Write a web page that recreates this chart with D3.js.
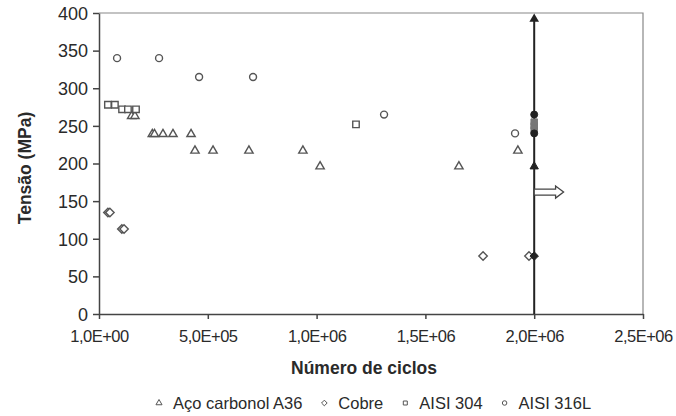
<!DOCTYPE html>
<html>
<head>
<meta charset="utf-8">
<script src="https://cdn.jsdelivr.net/npm/d3@7"></script>
<style>
  body { margin: 0; background: #fff; }
  text { font-family: "Liberation Sans", Arial, sans-serif; fill: #2a2a2a; }
</style>
</head>
<body>
<div id="chart"></div>
<script>
// tick values / labels
var xTicks = [1, 5e5, 1e6, 1.5e6, 2e6, 2.5e6];
var xTickLabels = ["1,0E+00", "5,0E+05", "1,0E+06", "1,5E+06", "2,0E+06", "2,5E+06"];
var yTicks = [0, 50, 100, 150, 200, 250, 300, 350, 400];

// Aço carbonol A36
var a36Cycles = [150000, 165000, 245000, 255000, 294000, 340000, 423000, 441000, 524000, 689000, 937000, 1016000, 1654000, 1925000];
var a36Stress = [263, 263, 239, 239, 239, 239, 239, 217, 217, 217, 217, 196, 196, 217];
// Cobre
var cobreCycles = [41000, 50000, 105000, 115000, 1765000, 1976000];
var cobreStress = [135, 135, 113, 113, 77, 77];
// AISI 304
var a304Cycles = [41000, 73000, 106000, 133000, 170000, 1181000];
var a304Stress = [278, 278, 272, 272, 272, 252];
// AISI 316L
var a316Cycles = [83000, 276000, 460000, 708000, 1310000, 1912000];
var a316Stress = [340, 340, 315, 315, 265, 240];

// run-out specimens (2E+06 cycles)
var runoutCycles = 2e6;
var runA36 = [196];
var runCobre = [77];
var run304 = [245, 250, 255];
var run316 = [265, 240];
var arrowStress = 162;

var width = 676, height = 416;
var margin = {left: 99, right: 33, top: 13, bottom: 102};

var svg = d3.select("#chart").append("svg")
    .attr("width", width)
    .attr("height", height);

var xScale = d3.scaleLinear()
    .domain([1, 2.5e6])
    .range([margin.left, width - margin.right]);
var yScale = d3.scaleLinear()
    .domain([0, 400])
    .range([height - margin.bottom, margin.top]);

var gray = "#555";

// square rotated 45deg, like the Excel diamond marker
var diamond = {
    draw: function (ctx, size) {
        var r = Math.sqrt(size / 2);
        ctx.moveTo(0, -r);
        ctx.lineTo(r, 0);
        ctx.lineTo(0, r);
        ctx.lineTo(-r, 0);
        ctx.closePath();
    }
};

// frame (top and right)
svg.append("path")
    .attr("d", "M" + xScale(1) + "," + yScale(400) + "H" + xScale(2.5e6) + "V" + yScale(0))
    .attr("fill", "none")
    .attr("stroke", "#888")
    .attr("stroke-width", 1.2);

var xAxis = d3.axisBottom(xScale)
    .tickValues(xTicks)
    .tickSize(5)
    .tickSizeOuter(0)
    .tickFormat(function (d, i) { return xTickLabels[i]; });
var yAxis = d3.axisLeft(yScale)
    .tickValues(yTicks)
    .tickSize(6)
    .tickSizeOuter(0);

var gx = svg.append("g")
    .attr("transform", "translate(0," + yScale(0) + ")")
    .call(xAxis);
var gy = svg.append("g")
    .attr("transform", "translate(" + xScale(1) + ",0)")
    .call(yAxis);

[gx, gy].forEach(function (g) {
    g.attr("font-family", null);
    g.selectAll("path, line").attr("stroke", "#444").attr("stroke-width", 1.5);
    g.selectAll("text")
        .attr("fill", "#2a2a2a");
});
gx.selectAll("text")
    .style("font-size", "16.5px")
    .style("letter-spacing", "-0.5px")
    .attr("dy", "1.2em");
gy.selectAll("text")
    .style("font-size", "18px")
    .attr("x", -11)
    .attr("dy", "0.35em");

// axis titles
svg.append("text")
    .attr("x", 364)
    .attr("y", 374)
    .attr("text-anchor", "middle")
    .style("font-size", "17.5px")
    .style("font-weight", "bold")
    .text("Número de ciclos");
svg.append("text")
    .attr("transform", "translate(31," + 168 + ") rotate(-90)")
    .attr("text-anchor", "middle")
    .style("font-size", "17.5px")
    .style("font-weight", "bold")
    .text("Tensão (MPa)");

// run-out line with arrow
svg.append("line")
    .attr("x1", xScale(runoutCycles)).attr("x2", xScale(runoutCycles))
    .attr("y1", yScale(0)).attr("y2", yScale(400) + 4)
    .attr("stroke", "#222").attr("stroke-width", 2);
svg.append("path")
    .attr("d", d3.symbol().type(d3.symbolTriangle).size(40)())
    .attr("transform", "translate(" + xScale(runoutCycles) + "," + (yScale(400) + 6) + ")")
    .attr("fill", "#222");

// hollow arrow pointing right
var ax = xScale(runoutCycles), ay = yScale(arrowStress), ae = xScale(2.135e6);
svg.append("path")
    .attr("d", "M" + ax + "," + (ay - 3) + "H" + (ae - 8) + "V" + (ay - 6) +
        "L" + ae + "," + ay + "L" + (ae - 8) + "," + (ay + 6) + "V" + (ay + 3) + "H" + ax + "Z")
    .attr("fill", "#fff")
    .attr("stroke", "#444")
    .attr("stroke-width", 1.3);

function zip(xs, ys) {
    return xs.map(function (x, i) { return {x: x, y: ys[i]}; });
}

var series = [
    {name: "Aço carbonol A36", type: d3.symbolTriangle, size: 30, data: zip(a36Cycles, a36Stress), run: runA36},
    {name: "Cobre", type: diamond, size: 36, data: zip(cobreCycles, cobreStress), run: runCobre},
    {name: "AISI 304", type: d3.symbolSquare, size: 42, data: zip(a304Cycles, a304Stress), run: run304},
    {name: "AISI 316L", type: d3.symbolCircle, size: 38, data: zip(a316Cycles, a316Stress), run: run316}
];

series.forEach(function (s) {
    svg.selectAll(null)
        .data(s.data)
        .enter()
        .append("path")
        .attr("d", d3.symbol().type(s.type).size(s.size))
        .attr("transform", function (d) {
            return "translate(" + xScale(d.x) + "," + yScale(d.y) + ")";
        })
        .attr("fill", "#fff")
        .attr("stroke", gray)
        .attr("stroke-width", 1.4);

    svg.selectAll(null)
        .data(s.run)
        .enter()
        .append("path")
        .attr("d", d3.symbol().type(s.type).size(s.size))
        .attr("transform", function (d) {
            return "translate(" + xScale(runoutCycles) + "," + yScale(d) + ")";
        })
        .attr("fill", s.name == "AISI 304" ? "#777" : "#222")
        .attr("stroke", s.name == "AISI 304" ? "#777" : "#222")
        .attr("stroke-width", 1);
});

// legend
var legend = svg.append("g").attr("transform", "translate(0,403)");
var lx = 159;
series.forEach(function (s) {
    legend.append("path")
        .attr("d", d3.symbol().type(s.type).size(16)())
        .attr("transform", "translate(" + lx + ",0)")
        .attr("fill", "#fff")
        .attr("stroke", gray)
        .attr("stroke-width", 1);
    var t = legend.append("text")
        .attr("x", lx + 14)
        .attr("dy", "0.35em")
        .style("font-size", "16.5px")
        .text(s.name);
    lx += 14 + t.node().getComputedTextLength() + 22;
});
</script>
</body>
</html>
